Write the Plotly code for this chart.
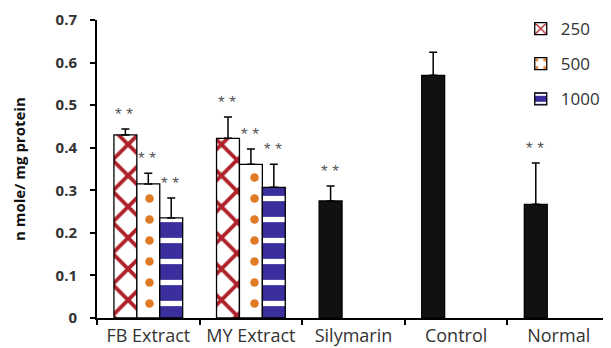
import plotly.graph_objects as go

categories = ["FB Extract", "MY Extract", "Silymarin", "Control", "Normal"]
dose_labels = ["250", "500", "1000"]
extract_cats = ["FB Extract", "MY Extract"]
vals_250 = [0.430, 0.422]
err_250 = [0.014, 0.050]
vals_500 = [0.315, 0.361]
err_500 = [0.025, 0.036]
vals_1000 = [0.235, 0.307]
err_1000 = [0.047, 0.054]
single_cats = ["Silymarin", "Control", "Normal"]
single_vals = [0.275, 0.570, 0.267]
single_err = [0.035, 0.054, 0.097]
sig_marks = ["**", "**", "**", "**", "**", "**", "**", "", "**"]
y_title = "n mole/ mg protein"

fig = go.Figure()

def err(a):
    return dict(type="data", array=a, arrayminus=[0]*len(a), symmetric=False,
                color="black", thickness=1.5, width=4)

fig.add_trace(go.Bar(
    x=extract_cats, y=vals_250, name=dose_labels[0], offsetgroup="a",
    legendgroup="g1",
    marker=dict(color="white", line=dict(color="black", width=1.3),
                pattern=dict(shape="x", fgcolor="#b0222a", bgcolor="white",
                             fgopacity=1, size=22, solidity=0.32, fillmode="replace")),
    error_y=err(err_250)))
fig.add_trace(go.Bar(
    x=extract_cats, y=vals_500, name=dose_labels[1], offsetgroup="b",
    legendgroup="g2",
    marker=dict(color="white", line=dict(color="black", width=1.3),
                pattern=dict(shape=".", fgcolor="#e07a25", bgcolor="white",
                             fgopacity=1, size=21, solidity=0.13, fillmode="replace")),
    error_y=err(err_500)))
fig.add_trace(go.Bar(
    x=extract_cats, y=vals_1000, name=dose_labels[2], offsetgroup="c",
    legendgroup="g3",
    marker=dict(color="#3a2f9c", line=dict(color="black", width=1.3),
                pattern=dict(shape="-", fgcolor="white", bgcolor="#3a2f9c",
                             fgopacity=1, size=21, solidity=0.25, fillmode="replace")),
    error_y=err(err_1000)))
fig.add_trace(go.Bar(
    x=single_cats, y=single_vals, name="single", offsetgroup="a",
    showlegend=False,
    marker=dict(color="#111111", line=dict(color="black", width=1.3)),
    error_y=err(single_err)))

# significance annotations
ann_x = extract_cats * 3 + single_cats
ann_y = [v + e for v, e in zip(vals_250 + vals_500 + vals_1000 + single_vals,
                               err_250 + err_500 + err_1000 + single_err)]
ann_shift = [-23, -23, 0, 0, 23, 23, -23, -23, -23]
for x, y, s, t in zip(ann_x, ann_y, ann_shift, sig_marks):
    if t:
        fig.add_annotation(x=x, y=y, text="* *", showarrow=False, xshift=s - 1,
                           yanchor="bottom", yshift=3,
                           font=dict(size=17, color="#555555", family="Liberation Sans"))

fig.add_annotation(x=-0.152, y=0.5, xref="paper", yref="paper",
                   text="<b>" + y_title + "</b>", textangle=-90, showarrow=False,
                   xanchor="center", yanchor="middle",
                   font=dict(size=15, color="#111111", family="Open Sans"))

# page body has an 8px margin: figure is sized/offset to compensate
fig.update_layout(
    width=603, height=340,
    margin=dict(l=89, r=1, t=12, b=30),
    paper_bgcolor="white", plot_bgcolor="white",
    barmode="group", bargap=0.33, bargroupgap=0,
    font=dict(family="Open Sans", color="#333333"),
    legend=dict(x=0.826, y=1.03, xanchor="left", yanchor="top",
                font=dict(size=17, color="#333333"), tracegroupgap=10,
                traceorder="grouped", bgcolor="rgba(0,0,0,0)"),
    xaxis=dict(categoryorder="array", categoryarray=categories,
               showline=True, linecolor="black", linewidth=2,
               ticks="outside", tickson="boundaries", ticklen=5,
               tickcolor="black", tickwidth=2, automargin=False,
               tickangle=0,
               tickfont=dict(size=18, color="#333333")),
    yaxis=dict(range=[0, 0.7], dtick=0.1, tickformat=".1~f",
               showline=True, linecolor="black", linewidth=2,
               ticks="outside", ticklen=5, tickcolor="black", tickwidth=2,
               showgrid=False, zeroline=False, automargin=False,
               ticklabelstandoff=10,
               tickfont=dict(size=15, color="#333333", family="Open Sans", weight="bold")),
)

fig.write_html("out.html")
